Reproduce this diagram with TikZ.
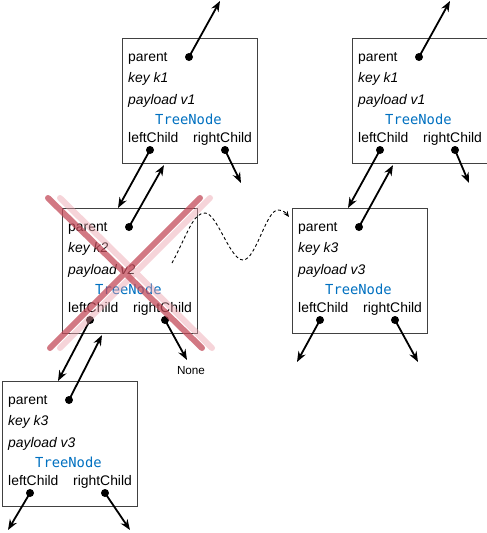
\documentclass[tikz,border=0pt]{standalone}
\usepackage{fontspec}
\setmainfont{Liberation Sans}
\newfontfamily\codefont{DejaVu Sans Mono}
\usetikzlibrary{calc,arrows.meta}

\definecolor{tnblue}{RGB}{0,112,192}
\definecolor{boxgray}{RGB}{65,65,65}
\definecolor{crossred}{RGB}{195,75,90}
\definecolor{crosspink}{RGB}{235,160,170}

% one TreeNode box: name, x, y, key, payload
\newcommand{\treebox}[5]{%
  \node[box] (#1) at (#2,#3) {};
  \node[field] (#1-par) at ($(#1.north west)+(6,23)$) {parent};
  \node[field] (#1-key) at ($(#1.north west)+(6,44.5)$) {\itshape key #4};
  \node[field] (#1-pay) at ($(#1.north west)+(6,66)$) {\itshape payload #5};
  \node[cls] (#1-cls) at ($(#1.north west)+(33,86)$) {TreeNode};
  \node[field] (#1-lc) at ($(#1.north west)+(6,104)$) {leftChild};
  \node[field] (#1-rc) at ($(#1.north west)+(71,104)$) {rightChild};
  \node[dot] (#1-p) at ($(#1.north west)+(67,19)$) {};
  \node[dot] (#1-l) at ($(#1.north west)+(28,112)$) {};
  \node[dot] (#1-r) at ($(#1.north west)+(103,112)$) {};
}

\begin{document}
\begin{tikzpicture}[x=1pt,y=-1pt,
    box/.style={draw=boxgray, line width=1.1pt, anchor=north west, minimum width=135pt, minimum height=125pt, inner sep=0pt},
    field/.style={anchor=base west, inner sep=0pt, font=\fontsize{13.9}{16}\selectfont},
    cls/.style={anchor=base west, inner sep=0pt, text=tnblue, font=\codefont\fontsize{13.8}{16}\selectfont},
    dot/.style={circle, fill=black, inner sep=0pt, minimum size=8pt},
    ptr/.style={-{Stealth[length=10.5pt,width=8pt]}, line width=1.8pt},
    wave/.style={-{Stealth[length=6pt,width=5pt]}, line width=0.9pt, dash pattern=on 3pt off 2.5pt},
    cross/.style={line width=6pt, line cap=round}]
    \useasboundingbox (0,0) rectangle (487,533);

    \treebox{b1}{122}{38}{k1}{v1}
    \treebox{b2}{62}{208}{k2}{v2}
    \treebox{b3}{292}{208}{k3}{v3}
    \treebox{b4}{352}{38}{k1}{v1}
    \treebox{b5}{2}{381}{k3}{v3}

    % free ends
    \coordinate (b1up) at (220,1);
    \coordinate (b4up) at (450,1);
    \coordinate (b1out) at (241,183);
    \coordinate (b4out) at (469,183);
    \coordinate (b3lo) at (297,362);
    \coordinate (b3ro) at (418,362);
    \coordinate (b5lo) at (8,530);
    \coordinate (b5ro) at (130,530);
    \coordinate (b2ro) at (187,360);
    \coordinate (b2in) at ($(b2.north west)+(56,0)$);
    \coordinate (b3in) at ($(b3.north west)+(56,0)$);
    \coordinate (b5in) at ($(b5.north west)+(56,0)$);
    \coordinate (b1in) at ($(b1.south west)+(42,1)$);
    \coordinate (b4in) at ($(b4.south west)+(41,1)$);
    \coordinate (b2bot) at ($(b2.south west)+(40,1)$);

    \draw[ptr] (b1-p.center) -- (b1up);
    \draw[ptr] (b4-p.center) -- (b4up);
    \draw[ptr] (b1-r.center) -- (b1out);
    \draw[ptr] (b4-r.center) -- (b4out);
    \draw[ptr] (b1-l.center) -- (b2in);
    \draw[ptr] (b2-p.center) -- (b1in);
    \draw[ptr] (b4-l.center) -- (b3in);
    \draw[ptr] (b3-p.center) -- (b4in);
    \draw[ptr] (b2-l.center) -- (b5in);
    \draw[ptr] (b5-p.center) -- (b2bot);
    \draw[ptr] (b2-r.center) -- (b2ro);
    \draw[ptr] (b3-l.center) -- (b3lo);
    \draw[ptr] (b3-r.center) -- (b3ro);
    \draw[ptr] (b5-l.center) -- (b5lo);
    \draw[ptr] (b5-r.center) -- (b5ro);

    \node[font=\fontsize{11.7}{13}\selectfont] (none) at (191,371) {None};

    % dashed move of k3 up
    \coordinate (ws) at (172,263);
    \coordinate (we) at (289,217);
    \draw[wave] (ws) .. controls (188,233) and (193,213) .. (205,213)
        .. controls (217,213) and (230,260) .. (243,260)
        .. controls (256,260) and (266,210) .. (278,210)
        .. controls (283,210) and (286,213) .. (we);

    % crossed out node
    \draw[cross, crosspink, opacity=0.45] (60,198) -- (212,348) (210,198) -- (60,348);
    \draw[cross, crossred, opacity=0.75] (48,198) -- (202,348) (200,198) -- (50,348);
\end{tikzpicture}
\end{document}
